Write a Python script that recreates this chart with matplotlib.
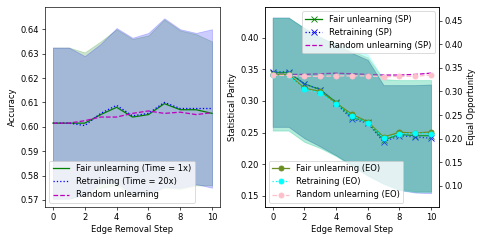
import matplotlib
matplotlib.use("Agg")
import matplotlib.pyplot as plt
import numpy as np

steps = list(range(11))

# Left panel: accuracy
acc_fair = [0.6015, 0.6015, 0.6015, 0.6050, 0.6080, 0.6040, 0.6050, 0.6095, 0.6070, 0.6070, 0.6055]
acc_fair_std = [0.0310, 0.0310, 0.0290, 0.0300, 0.0320, 0.0320, 0.0325, 0.0345, 0.0325, 0.0310, 0.0295]
acc_retrain = [0.6015, 0.6015, 0.6005, 0.6055, 0.6088, 0.6045, 0.6055, 0.6100, 0.6075, 0.6075, 0.6075]
acc_retrain_std = [0.0310, 0.0310, 0.0285, 0.0285, 0.0317, 0.0320, 0.0330, 0.0345, 0.0325, 0.0310, 0.0325]
acc_random = [0.6015, 0.6015, 0.6025, 0.6040, 0.6040, 0.6055, 0.6065, 0.6055, 0.6060, 0.6050, 0.6058]

# Right panel: statistical parity (left axis)
sp_fair = [0.345, 0.345, 0.327, 0.318, 0.298, 0.274, 0.267, 0.238, 0.247, 0.245, 0.245]
sp_retrain = [0.346, 0.346, 0.327, 0.318, 0.296, 0.271, 0.265, 0.235, 0.245, 0.243, 0.241]
sp_random = [0.343, 0.342, 0.342, 0.343, 0.344, 0.343, 0.342, 0.341, 0.341, 0.342, 0.344]
sp_fair_lo = [0.259, 0.259, 0.241, 0.228, 0.214, 0.199, 0.183, 0.170, 0.161, 0.157, 0.157]
sp_fair_hi = [0.432, 0.432, 0.415, 0.401, 0.389, 0.376, 0.365, 0.325, 0.325, 0.325, 0.326]
sp_retrain_lo = [0.259, 0.259, 0.241, 0.228, 0.214, 0.198, 0.182, 0.169, 0.159, 0.155, 0.154]
sp_retrain_hi = [0.432, 0.432, 0.415, 0.401, 0.389, 0.376, 0.365, 0.325, 0.325, 0.325, 0.326]

# Right panel: equal opportunity (right axis)
eo_fair = [0.336, 0.336, 0.307, 0.300, 0.2755, 0.2515, 0.2357, 0.2033, 0.2132, 0.2120, 0.2139]
eo_retrain = [0.334, 0.334, 0.3045, 0.2973, 0.2727, 0.2485, 0.2336, 0.2012, 0.2097, 0.2118, 0.2103]
eo_random = [0.334, 0.334, 0.332, 0.332, 0.333, 0.333, 0.333, 0.331, 0.332, 0.332, 0.3348]
eo_fair_lo = [0.217, 0.217, 0.193, 0.180, 0.163, 0.142, 0.121, 0.104, 0.091, 0.087, 0.087]
eo_fair_hi = [0.456, 0.456, 0.435, 0.415, 0.398, 0.386, 0.372, 0.326, 0.324, 0.324, 0.324]
eo_retrain_lo = [0.217, 0.217, 0.193, 0.180, 0.163, 0.142, 0.121, 0.104, 0.091, 0.087, 0.087]
eo_retrain_hi = [0.456, 0.456, 0.435, 0.416, 0.400, 0.390, 0.378, 0.326, 0.324, 0.324, 0.324]

fig = plt.figure(figsize=(8, 243 / 60.625), dpi=60.625)
ax1 = fig.add_axes([0.0928, 0.148, 0.3608, 0.823])
ax2 = fig.add_axes([0.546, 0.148, 0.359, 0.823])

# ---- left panel
x = np.array(steps)
ax1.plot(x, acc_fair, color="green", ls="-", label="Fair unlearning (Time = 1x)")
ax1.fill_between(x, np.array(acc_fair) - np.array(acc_fair_std),
                 np.array(acc_fair) + np.array(acc_fair_std), color="green", alpha=0.2)
ax1.plot(x, acc_retrain, color="blue", ls=":", label="Retraining (Time = 20x)")
ax1.fill_between(x, np.array(acc_retrain) - np.array(acc_retrain_std),
                 np.array(acc_retrain) + np.array(acc_retrain_std), color="blue", alpha=0.2)
ax1.plot(x, acc_random, color="m", ls="--", label="Random unlearning")
ax1.set_ylim(0.5671, 0.6491)
ax1.set_yticks([0.57, 0.58, 0.59, 0.60, 0.61, 0.62, 0.63, 0.64])
ax1.set_xticks([0, 2, 4, 6, 8, 10])
ax1.set_xlabel("Edge Removal Step")
ax1.set_ylabel("Accuracy")
ax1.legend(loc="lower left")

# ---- right panel
ax2.plot(x, sp_fair, color="green", ls="-", marker="x", label="Fair unlearning (SP)")
ax2.fill_between(x, sp_fair_lo, sp_fair_hi, color="green", alpha=0.2)
ax2.plot(x, sp_retrain, color="blue", ls=":", marker="x", label="Retraining (SP)")
ax2.fill_between(x, sp_retrain_lo, sp_retrain_hi, color="blue", alpha=0.2)
ax2.plot(x, sp_random, color="m", ls="--", label="Random unlearning (SP)")
ax2.set_ylim(0.1321, 0.4486)
ax2.set_yticks([0.15, 0.20, 0.25, 0.30, 0.35, 0.40])
ax2.set_xticks([0, 2, 4, 6, 8, 10])
ax2.set_xlabel("Edge Removal Step")
ax2.set_ylabel("Statistical Parity")

ax3 = ax2.twinx()
ax3.plot(x, eo_fair, color="olivedrab", ls="-", marker="o", label="Fair unlearning (EO)")
ax3.fill_between(x, eo_fair_lo, eo_fair_hi, color="olivedrab", alpha=0.2)
ax3.plot(x, eo_retrain, color="cyan", ls=":", marker="o", label="Retraining (EO)")
ax3.fill_between(x, eo_retrain_lo, eo_retrain_hi, color="cyan", alpha=0.2)
ax3.plot(x, eo_random, color="pink", ls="--", marker="o", label="Random unlearning (EO)")
ax3.set_ylim(0.0548, 0.479)
ax3.set_yticks([0.10, 0.15, 0.20, 0.25, 0.30, 0.35, 0.40, 0.45])
ax3.set_ylabel("Equal Opportunity")

h_sp, l_sp = ax2.get_legend_handles_labels()
leg_sp = ax3.legend(h_sp, l_sp, loc="upper right")
ax3.add_artist(leg_sp)
ax3.legend(loc="lower left")

fig.savefig("out.png", dpi=60.625)
